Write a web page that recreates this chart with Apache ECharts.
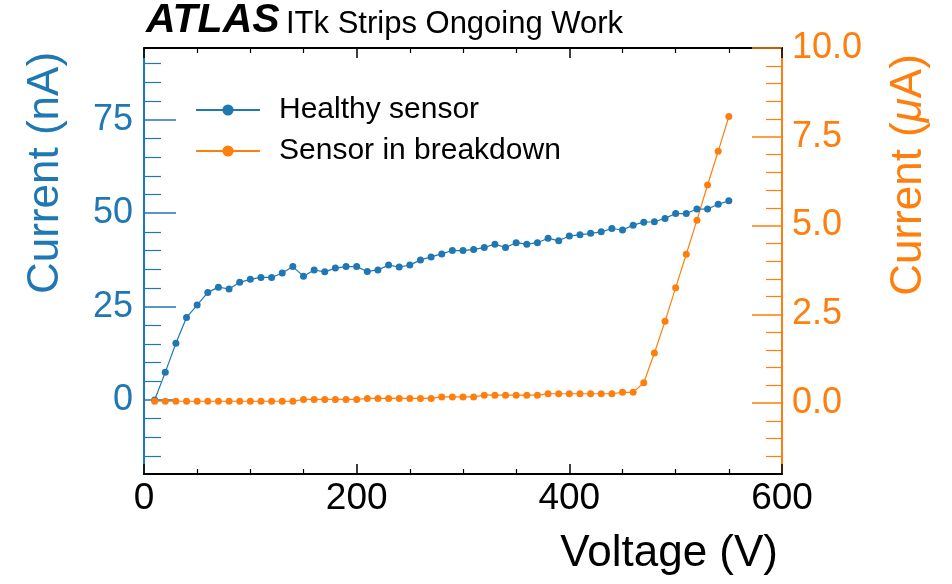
<!DOCTYPE html>
<html>
<head>
<meta charset="utf-8">
<script src="https://cdn.jsdelivr.net/npm/echarts@6/dist/echarts.min.js"></script>
<style>
  html, body { margin: 0; padding: 0; background: #fff; }
  #main { width: 952px; height: 584px; }
</style>
</head>
<body>
<div id="main"></div>
<script>
var myChart = echarts.init(document.getElementById('main'));

// bias voltage steps (V)
var voltage = [10, 20, 30, 40, 50, 60, 70, 80, 90, 100,
    110, 120, 130, 140, 150, 160, 170, 180, 190, 200,
    210, 220, 230, 240, 250, 260, 270, 280, 290, 300,
    310, 320, 330, 340, 350, 360, 370, 380, 390, 400,
    410, 420, 430, 440, 450, 460, 470, 480, 490, 500,
    510, 520, 530, 540, 550];

// healthy sensor, nA
var healthy = [0, 7.4, 15.2, 22.1, 25.4, 28.8, 30.2, 29.7, 31.5, 32.3,
    32.8, 32.8, 34.0, 35.7, 33.1, 34.8, 34.3, 35.3, 35.7, 35.7,
    34.4, 34.8, 36.1, 35.6, 36.1, 37.5, 38.3, 39.1, 40.0, 40.0,
    40.3, 40.8, 41.7, 40.8, 42.1, 41.7, 42.1, 43.3, 42.6, 43.9,
    44.2, 44.6, 45.0, 45.9, 45.5, 46.8, 47.6, 47.7, 48.6, 49.9,
    49.9, 51.1, 51.1, 52.4, 53.3];

// sensor in breakdown, uA
var breakdown = [0.05, 0.05, 0.05, 0.05, 0.05, 0.05, 0.05, 0.05, 0.05, 0.05,
    0.05, 0.05, 0.05, 0.05, 0.1, 0.1, 0.1, 0.1, 0.1, 0.1,
    0.13, 0.13, 0.13, 0.13, 0.13, 0.13, 0.13, 0.17, 0.17, 0.17,
    0.17, 0.22, 0.22, 0.22, 0.22, 0.22, 0.22, 0.26, 0.26, 0.26,
    0.26, 0.26, 0.26, 0.26, 0.30, 0.30, 0.57, 1.41, 2.30, 3.25,
    4.19, 5.15, 6.14, 7.09, 8.07];

var leftTicks = [0, 25, 50, 75];
var leftMinor = [-15, -10, -5, 5, 10, 15, 20, 30, 35, 40, 45, 55, 60, 65, 70, 80, 85, 90];
var rightTicks = [0, 2.5, 5, 7.5, 10];
var rightMinor = [-1.5, -1, -0.5, 0.5, 1, 1.5, 2, 3, 3.5, 4, 4.5, 5.5, 6, 6.5, 7, 8, 8.5, 9, 9.5];

var blue = '#1f77b4';
var orange = '#ff7f0e';
var font = '"Liberation Sans", Arial, Helvetica, sans-serif';

function pairs(ys) {
    return voltage.map(function (v, i) { return [v, ys[i]]; });
}

var leftRange = [-19.8, 94.2];
var rightRange = [-2.0, 10.0];

function yAxisBase(pos, range, color) {
    return {
        type: 'value',
        position: pos,
        min: range[0],
        max: range[1],
        splitLine: { show: false },
        axisLine: { show: true, onZero: false, lineStyle: { color: color, width: 2 } }
    };
}

var yLeft = yAxisBase('left', leftRange, blue);
yLeft.axisTick = { show: true, inside: true, length: 32, customValues: leftTicks, lineStyle: { color: blue, width: 1.5 } };
yLeft.axisLabel = { customValues: leftTicks, color: blue, fontSize: 36, fontFamily: font, margin: 11 };

var yLeftMinor = yAxisBase('left', leftRange, blue);
yLeftMinor.axisTick = { show: true, inside: true, length: 17, customValues: leftMinor, lineStyle: { color: blue, width: 1.2 } };
yLeftMinor.axisLabel = { show: false };

var yRight = yAxisBase('right', rightRange, orange);
yRight.axisTick = { show: true, inside: true, length: 30, customValues: rightTicks, lineStyle: { color: orange, width: 1.5 } };
yRight.axisLabel = {
    customValues: rightTicks, color: orange, fontSize: 36, fontFamily: font, margin: 10,
    formatter: function (v) { return v.toFixed(1); }
};

var yRightMinor = yAxisBase('right', rightRange, orange);
yRightMinor.axisTick = { show: true, inside: true, length: 16, customValues: rightMinor, lineStyle: { color: orange, width: 1.2 } };
yRightMinor.axisLabel = { show: false };

function xAxisBase(pos, showLabel) {
    return {
        type: 'value',
        position: pos,
        min: 0,
        max: 600,
        interval: 200,
        splitLine: { show: false },
        axisLine: { show: true, onZero: false, lineStyle: { color: '#000', width: 2 } },
        axisTick: { show: true, inside: true, length: 10, lineStyle: { color: '#000', width: 1.5 } },
        minorTick: { show: true, splitNumber: 4, length: 5, lineStyle: { color: '#000', width: 1.2 } },
        axisLabel: { show: showLabel, color: '#000', fontSize: 37, fontFamily: font, margin: 6 }
    };
}

var option = {
    backgroundColor: '#fff',
    animation: false,
    grid: { left: 144, right: 170, top: 48, bottom: 110 },
    xAxis: [xAxisBase('bottom', true), xAxisBase('top', false)],
    yAxis: [yLeft, yLeftMinor, yRight, yRightMinor],
    legend: {
        orient: 'vertical',
        left: 190,
        top: 90,
        itemWidth: 64,
        itemHeight: 14,
        itemGap: 11,
        textStyle: { color: '#000', fontSize: 30, fontFamily: font, padding: [0, 0, 0, 14] },
        data: ['Healthy sensor', 'Sensor in breakdown']
    },
    graphic: [
        {
            type: 'text', left: 146, top: 0,
            style: { text: 'ATLAS', fontSize: 41, fontWeight: 'bold', fontStyle: 'italic', fontFamily: font, fill: '#000' }
        },
        {
            type: 'text', left: 286, top: 9,
            style: { text: 'ITk Strips Ongoing Work', fontSize: 31, fontFamily: font, fill: '#000' }
        },
        {
            type: 'text', x: 46, y: 173, rotation: Math.PI / 2,
            style: { text: 'Current (nA)', fontSize: 44, fontFamily: font, fill: blue, align: 'center', verticalAlign: 'middle' }
        },
        {
            type: 'text', x: 909, y: 175, rotation: Math.PI / 2,
            style: {
                text: 'Current ({m|μ}A)', fontSize: 44, fontFamily: font, fill: orange, align: 'center', verticalAlign: 'middle',
                rich: { m: { fontSize: 44, fontStyle: 'italic', fontFamily: font, fill: orange } }
            }
        },
        {
            type: 'text', right: 174, top: 532,
            style: { text: 'Voltage (V)', fontSize: 44, fontFamily: font, fill: '#000' }
        }
    ],
    series: [
        {
            name: 'Healthy sensor',
            type: 'line',
            xAxisIndex: 0,
            yAxisIndex: 0,
            data: pairs(healthy),
            symbol: 'circle',
            symbolSize: 7,
            showAllSymbol: true,
            itemStyle: { color: blue },
            lineStyle: { color: blue, width: 1.2 }
        },
        {
            name: 'Sensor in breakdown',
            type: 'line',
            xAxisIndex: 0,
            yAxisIndex: 2,
            data: pairs(breakdown),
            symbol: 'circle',
            symbolSize: 7,
            showAllSymbol: true,
            itemStyle: { color: orange },
            lineStyle: { color: orange, width: 1.2 }
        }
    ]
};

myChart.setOption(option);
</script>
</body>
</html>
